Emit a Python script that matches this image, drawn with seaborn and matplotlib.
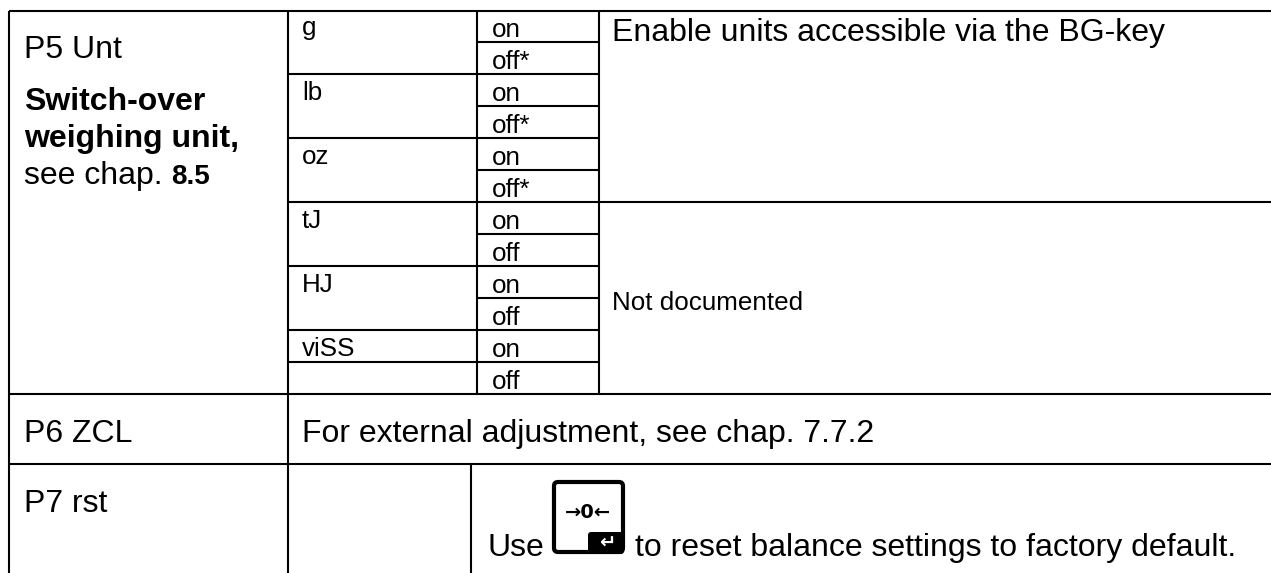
import matplotlib
matplotlib.use('Agg')
import matplotlib.pyplot as plt
from matplotlib.patches import FancyBboxPatch, Rectangle
import seaborn as sns

W, H = 1271, 573

# rule lines: (position, start, end)
h_rules = [
    (11, 9, 1271), (42, 477, 599), (74, 288, 599), (106, 477, 599), (138, 288, 599),
    (170, 477, 599), (202, 288, 1271), (234, 477, 599), (266, 288, 599), (298, 477, 599),
    (330, 288, 599), (362, 288, 599), (394, 9, 1271), (464, 9, 1271),
]
v_rules = [
    (9, 11, 573), (288, 11, 573), (477, 11, 394), (599, 11, 394), (471, 464, 573),
]

units = ['g', 'lb', 'oz', 'tJ', 'HJ', 'viSS']
unit_baselines = [35, 100, 164, 228, 292, 356]
switch_labels = ['on', 'off*', 'on', 'off*', 'on', 'off*', 'on', 'off', 'on', 'off', 'on', 'off']
switch_baselines = [37, 69, 101, 133, 165, 197, 229, 261, 293, 325, 357, 389]

sns.set_theme(style='white')
plt.rcParams['font.family'] = ['Liberation Sans', 'DejaVu Sans']

fig = plt.figure(figsize=(W / 100, H / 100), dpi=100)
ax = fig.add_axes([0, 0, 1, 1])
ax.set_xlim(0, W)
ax.set_ylim(H, 0)
ax.axis('off')

for y, x0, x1 in h_rules:
    ax.hlines(y, x0, x1, color='black', lw=1.5)
for x, y0, y1 in v_rules:
    ax.vlines(x, y0, y1, color='black', lw=1.5)

BIG = 23
SMALL = 18.7


def put(x, y, s, size=BIG, **kw):
    ax.text(x, y, s, fontsize=size, color='black', va='baseline', **kw)


put(24, 58, 'P5 Unt')
put(24, 110, 'Switch-over', weight='bold')
put(24, 147, 'weighing unit,', weight='bold')
put(24, 184, 'see chap.')
put(171, 184, '8.5', weight='bold', size=20)
put(24, 442, 'P6 ZCL')
put(24, 512, 'P7 rst')

for name, y in zip(units, unit_baselines):
    put(302, y, name, size=SMALL)
for name, y in zip(switch_labels, switch_baselines):
    put(492, y, name, size=SMALL)

put(612, 41, 'Enable units accessible via the BG-key')
put(612, 310, 'Not documented', size=SMALL)
put(302, 442, 'For external adjustment, see chap. 7.7.2')
put(487, 556, 'Use')
put(635, 556, 'to reset balance settings to factory default.')

# key icon
ax.add_patch(FancyBboxPatch((554, 482), 69, 70, boxstyle='round,pad=0,rounding_size=4',
                            fc='white', ec='black', lw=3))
ax.add_patch(FancyBboxPatch((588, 532), 36, 22, boxstyle='round,pad=0,rounding_size=3',
                            fc='black', ec='black', lw=0))
ax.add_patch(Rectangle((610, 540), 14, 10, fc='black', ec='none'))
ax.text(588, 513, '→0←', fontsize=14, fontweight='bold', family='DejaVu Sans',
        ha='center', va='center', color='black')
ax.text(607, 543, '↵', fontsize=14, fontweight='bold', family='DejaVu Sans',
        ha='center', va='center', color='white')

fig.savefig('out.png', dpi=100, facecolor='white')
plt.close(fig)
